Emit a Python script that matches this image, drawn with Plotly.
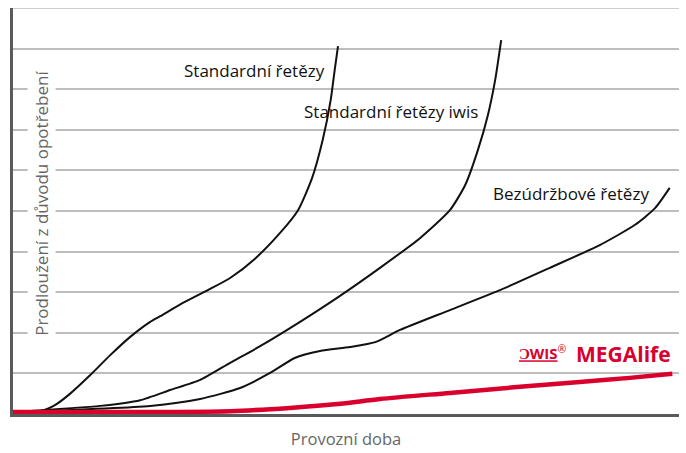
import plotly.graph_objects as go

# Data (x: operating time 0-100, y: elongation 0-10)
std_x = [0, 4.1, 6.3, 8.5, 11.6, 14.6, 17.6, 20.6, 22.1, 25.8, 29.6, 32.6, 36.3, 40.1, 42.8, 44.9, 46.5, 47.7, 48.3, 48.8]
std_y = [0.05, 0.07, 0.22, 0.49, 0.96, 1.45, 1.90, 2.27, 2.41, 2.76, 3.08, 3.35, 3.82, 4.46, 5.02, 5.81, 6.75, 7.73, 8.47, 9.06]

iwis_x = [0, 13.1, 19.1, 23.6, 28.1, 32.6, 37.1, 43.1, 49.1, 55.1, 61.1, 65.6, 67.9, 69.8, 71.3, 72.4, 73.3]
iwis_y = [0.05, 0.2, 0.34, 0.59, 0.84, 1.26, 1.67, 2.27, 2.91, 3.60, 4.33, 5.02, 5.64, 6.50, 7.36, 8.23, 9.21]

mf_x = [0, 20.6, 28.1, 34.1, 38.6, 42.3, 46.1, 50.6, 54.4, 58.1, 65.6, 73.1, 80.6, 88.1, 93.4, 96.4, 98.6]
mf_y = [0.05, 0.2, 0.37, 0.64, 1.01, 1.38, 1.55, 1.65, 1.77, 2.07, 2.56, 3.05, 3.60, 4.16, 4.66, 5.07, 5.57]

mega_x = [0, 32.6, 41.6, 49.1, 55.1, 65.6, 76.1, 85.1, 92.6, 99.0]
mega_y = [0.05, 0.07, 0.15, 0.25, 0.37, 0.52, 0.67, 0.79, 0.89, 0.99]

labels = ["Standardní řetězy", "Standardní řetězy iwis", "Bezúdržbové řetězy"]
label_x = [36.3, 56.8, 83.8]
label_y = [8.47, 7.46, 5.44]

RED = "#d9002e"
FONT = "Open Sans"

fig = go.Figure()
for xs, ys in [(std_x, std_y), (iwis_x, iwis_y), (mf_x, mf_y)]:
    fig.add_trace(go.Scatter(x=xs, y=ys, mode="lines",
                             line=dict(color="#111111", width=2, shape="spline", smoothing=0.6),
                             hoverinfo="skip", showlegend=False))
fig.add_trace(go.Scatter(x=mega_x, y=mega_y, mode="lines",
                         line=dict(color=RED, width=4.5, shape="spline", smoothing=0.8),
                         hoverinfo="skip", showlegend=False))

for t, x, y in zip(labels, label_x, label_y):
    fig.add_annotation(x=x, y=y, text=t, showarrow=False, xanchor="center", yanchor="middle",
                       font=dict(family=FONT, size=17, color="#111111"))

fig.add_annotation(x=91.7, y=1.48, text="<b>MEGAlife</b>", showarrow=False,
                   xanchor="center", yanchor="middle",
                   font=dict(family=FONT, size=21, color=RED))
fig.add_annotation(x=79.6, y=1.52, text="<b><u>ƆWIS</u></b><sup>®</sup>", showarrow=False,
                   xanchor="center", yanchor="middle",
                   font=dict(family=FONT, size=15, color=RED))

fig.add_annotation(xref="paper", yref="paper", x=0.0435, y=0.52,
                   xanchor="center", yanchor="middle",
                   text="Prodloužení z důvodu opotřebení", textangle=-90,
                   showarrow=False, bgcolor="white", borderpad=2,
                   font=dict(family=FONT, size=17, color="#666666"))

fig.update_layout(
    width=686, height=453,
    margin=dict(l=13, r=7, t=8, b=39),
    paper_bgcolor="white", plot_bgcolor="white",
    font=dict(family=FONT),
    xaxis=dict(range=[0, 100], showgrid=False, zeroline=False, showticklabels=False,
               ticks="", showline=True, linecolor="#5a5a5a", linewidth=2.5,
               title=dict(text="Provozní doba", font=dict(family=FONT, size=16.5, color="#666666"),
                          standoff=18)),
    yaxis=dict(range=[0, 10], dtick=1, showgrid=True, gridcolor="#bdbdbd", gridwidth=1.5,
               zeroline=False, showticklabels=False, ticks="",
               showline=True, linecolor="#5a5a5a", linewidth=2.5),
)
fig.add_shape(type="line", xref="paper", yref="y", x0=0, x1=1, y0=10, y1=10,
              line=dict(color="#bdbdbd", width=1.5), layer="below")

fig.write_html("out.html", config={"displayModeBar": False},
               post_script="document.body.style.margin='0';")
